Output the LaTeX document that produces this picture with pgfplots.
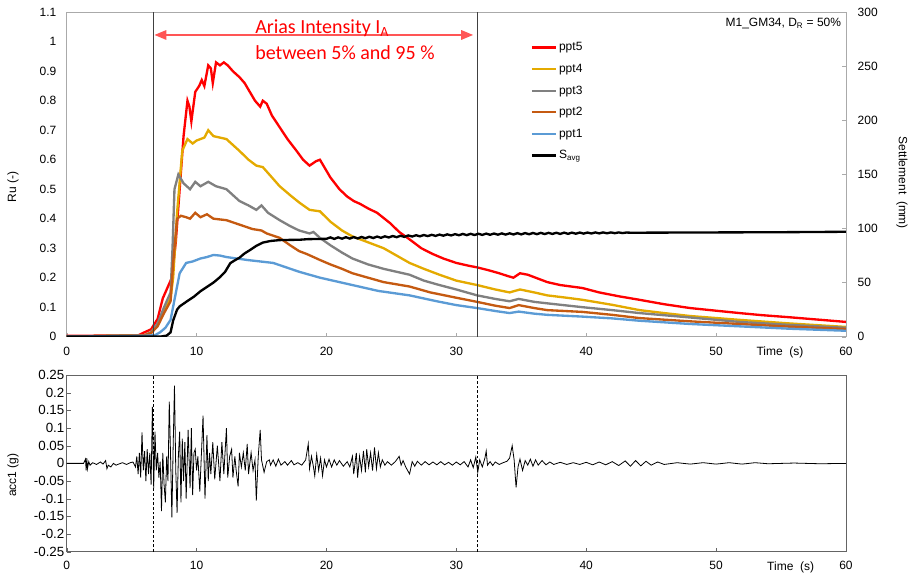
\documentclass[border=0pt]{standalone}
\usepackage{fontspec}
\setmainfont{Liberation Sans}
\newfontfamily\calibri{Carlito}
\usepackage{pgfplots}
\pgfplotsset{compat=1.18}
\usetikzlibrary{arrows.meta}

\definecolor{cppt5}{RGB}{255,0,0}
\definecolor{cppt4}{RGB}{228,170,0}
\definecolor{cppt3}{RGB}{128,128,128}
\definecolor{cppt2}{RGB}{197,90,17}
\definecolor{cppt1}{RGB}{91,155,213}
\definecolor{frametop}{RGB}{170,170,170}
\definecolor{framebot}{RGB}{100,100,100}
\definecolor{arrowred}{RGB}{255,85,85}

\pgfplotsset{
  panel/.style={
    scale only axis, width=584.5pt, anchor=south west,
    xmin=0, xmax=60,
    xtick={0,10,20,30,40,50,60},
    xticklabels={0,10,20,30,40,50,60},
    xtick pos=bottom, tick align=inside,
    major tick length=3pt,
  },
  series/.style={line width=1.75pt},
}

\begin{document}
\begin{tikzpicture}[font=\fontsize{9}{11}\selectfont]

% ---------------- top panel: pore pressure ratio ----------------
\begin{axis}[panel,
    at={(50pt,181pt)}, height=243.3pt,
    ymin=0, ymax=1.1,
    ytick={0,0.1,0.2,0.3,0.4,0.5,0.6,0.7,0.8,0.9,1,1.1},
    yticklabels={0,0.1,0.2,0.3,0.4,0.5,0.6,0.7,0.8,0.9,1,1.1},
    ytick pos=left,
    axis line style={frametop},
    xtick style={frametop},
    ytick style={draw=none},
    yticklabel style={xshift=-4.25pt},
    xticklabel style={yshift=-4.5pt},
    legend cell align=left,
    legend image code/.code={\draw[#1] (0pt,0pt) -- (18pt,0pt);},
    legend style={at={(0.59,0.925)}, anchor=north west, draw=none, fill=none,
      row sep=4.2pt, nodes={inner sep=1.5pt, text height=7pt, text depth=2pt}},
  ]
  \addplot[series, cppt5] coordinates {
    (0,0.003) (5.5,0.004) (6.0,0.015) (6.5,0.025) (7.0,0.06) (7.4,0.13) (7.8,0.17)
    (8.1,0.2) (8.4,0.32) (8.7,0.5) (9.0,0.68) (9.3,0.80) (9.45,0.78) (9.6,0.73)
    (9.9,0.83) (10.2,0.85) (10.4,0.87) (10.6,0.85) (10.9,0.92) (11.1,0.91) (11.25,0.86)
    (11.5,0.93) (11.8,0.92) (12.1,0.93) (12.4,0.92) (12.8,0.90) (13.3,0.88) (13.7,0.86)
    (14.1,0.83) (14.5,0.80) (14.9,0.78) (15.1,0.80) (15.4,0.79) (15.8,0.75) (16.4,0.71)
    (17.0,0.67) (17.7,0.63) (18.2,0.60) (18.7,0.58) (19.2,0.595) (19.5,0.60) (19.9,0.57)
    (20.3,0.54) (21.0,0.50) (21.6,0.475) (22.1,0.46) (22.6,0.45) (23.2,0.435) (23.9,0.42)
    (24.9,0.385) (25.6,0.355) (26.4,0.33) (27.3,0.30) (28.2,0.28) (29.0,0.265) (30.0,0.25)
    (31.0,0.24) (31.6,0.235) (32.5,0.225) (33.3,0.215) (34.0,0.205) (34.4,0.20) (34.9,0.215)
    (35.5,0.21) (36.4,0.195) (37.0,0.185) (38.0,0.175) (39.7,0.165) (41.0,0.15) (42.5,0.137)
    (44.1,0.125) (46.0,0.11) (48.0,0.097) (50.0,0.088) (51.8,0.08) (53.5,0.073) (55.6,0.066)
    (57.8,0.058) (60,0.05)};
  \addlegendentry{ppt5}
  \addplot[series, cppt4] coordinates {
    (0,0) (6.0,0.005) (6.5,0.015) (7.0,0.04) (7.5,0.09) (8.0,0.13) (8.2,0.2) (8.5,0.42)
    (8.9,0.63) (9.3,0.67) (9.7,0.655) (10.0,0.665) (10.3,0.67) (10.6,0.675) (10.9,0.70)
    (11.3,0.68) (11.8,0.675) (12.3,0.67) (12.8,0.65) (13.3,0.63) (14.0,0.60) (14.6,0.58)
    (15.1,0.575) (15.6,0.55) (16.4,0.51) (17.2,0.48) (17.9,0.455) (18.7,0.43) (19.5,0.425)
    (20.3,0.39) (21.2,0.36) (22.0,0.34) (23.2,0.32) (24.4,0.30) (25.4,0.275) (26.4,0.25)
    (27.5,0.23) (28.7,0.21) (30.0,0.19) (31.6,0.175) (33.0,0.16) (34.1,0.15) (34.9,0.16)
    (36.0,0.15) (37.0,0.14) (38.5,0.132) (39.7,0.125) (42.0,0.108) (44.1,0.09) (46.0,0.08)
    (48.0,0.07) (51.8,0.057) (55.6,0.045) (60,0.033)};
  \addlegendentry{ppt4}
  \addplot[series, cppt3] coordinates {
    (0,0) (6.0,0.005) (6.5,0.015) (7.0,0.045) (7.5,0.10) (8.0,0.15) (8.15,0.3) (8.3,0.50)
    (8.6,0.55) (9.0,0.52) (9.5,0.50) (9.9,0.525) (10.3,0.51) (10.9,0.525) (11.5,0.51)
    (12.3,0.50) (12.8,0.48) (13.3,0.46) (14.0,0.445) (14.6,0.43) (15.0,0.445) (15.5,0.42)
    (16.4,0.395) (17.2,0.375) (17.9,0.36) (18.7,0.35) (19.0,0.355) (19.5,0.335) (20.3,0.31)
    (21.2,0.285) (22.0,0.265) (23.2,0.245) (24.4,0.23) (25.4,0.22) (26.4,0.21) (27.5,0.19)
    (28.7,0.175) (30.0,0.16) (31.6,0.14) (33.0,0.128) (34.1,0.12) (34.8,0.128) (36.0,0.118)
    (37.0,0.113) (39.7,0.10) (42.0,0.09) (44.1,0.08) (48.0,0.065) (51.8,0.05) (55.6,0.04)
    (60,0.03)};
  \addlegendentry{ppt3}
  \addplot[series, cppt2] coordinates {
    (0,0) (6.0,0.005) (6.5,0.012) (7.0,0.035) (7.5,0.08) (8.0,0.12) (8.2,0.25) (8.5,0.40)
    (8.8,0.41) (9.2,0.405) (9.5,0.40) (9.9,0.42) (10.3,0.405) (10.8,0.415) (11.3,0.40)
    (12.3,0.395) (13.3,0.38) (14.3,0.365) (15.0,0.36) (15.4,0.35) (16.4,0.335) (17.2,0.31)
    (17.9,0.29) (18.5,0.28) (19.0,0.27) (19.5,0.26) (20.3,0.245) (21.2,0.23) (22.0,0.215)
    (23.2,0.20) (24.4,0.185) (26.4,0.17) (28.0,0.15) (30.0,0.132) (31.6,0.118) (33.0,0.105)
    (34.1,0.097) (34.8,0.107) (36.0,0.097) (37.0,0.09) (39.7,0.084) (42.0,0.074) (44.1,0.063)
    (48.0,0.052) (51.8,0.043) (55.6,0.034) (60,0.026)};
  \addlegendentry{ppt2}
  \addplot[series, cppt1] coordinates {
    (0,0) (6.0,0.003) (6.8,0.005) (7.2,0.015) (7.6,0.03) (8.0,0.057) (8.3,0.125) (8.7,0.215)
    (9.2,0.25) (9.7,0.255) (10.3,0.265) (10.8,0.27) (11.3,0.277) (11.8,0.275) (12.3,0.27)
    (13.1,0.265) (13.9,0.26) (14.9,0.255) (15.9,0.25) (16.9,0.235) (17.9,0.22) (18.7,0.21)
    (19.5,0.20) (20.5,0.19) (21.5,0.18) (22.5,0.17) (24.0,0.155) (26.4,0.14) (28.5,0.12)
    (30.0,0.107) (31.6,0.097) (33.0,0.087) (34.1,0.08) (34.8,0.085) (36.0,0.078) (37.0,0.074)
    (39.7,0.068) (42.0,0.062) (44.1,0.054) (48.0,0.043) (51.8,0.035) (55.6,0.027) (60,0.02)};
  \addlegendentry{ppt1}
  \addlegendimage{series, black}
  \addlegendentry{S\textsubscript{avg}}

  \draw[black!75, line width=0.9pt] (axis cs:6.7,0) -- (axis cs:6.7,1.1);
  \draw[black!75, line width=0.9pt] (axis cs:31.6,0) -- (axis cs:31.6,1.1);
  \draw[arrowred, line width=1.5pt, {Triangle[length=9pt,width=7pt]}-{Triangle[length=9pt,width=7pt]}]
    (axis cs:6.75,1.023) -- (axis cs:31.3,1.023);
\end{axis}

% ---------------- top panel: settlement (right axis) ----------------
\begin{axis}[panel,
    at={(50pt,181pt)}, height=243.3pt,
    axis x line=none, axis y line*=right,
    ymin=0, ymax=300,
    ytick={0,50,100,150,200,250,300},
    yticklabels={0,50,100,150,200,250,300},
    axis line style={frametop},
    ytick style={frametop},
    yticklabel style={xshift=5.25pt},
  ]
  \addplot[series, black] coordinates {
    (0,0) (7.2,0) (7.7,1) (8.0,4) (8.2,15) (8.5,25) (8.7,28) (9.3,33) (9.8,37) (10.3,42)
    (10.8,46) (11.3,50) (11.8,55) (12.2,60) (12.6,68) (13.0,71) (13.3,73) (13.7,77) (14.1,80)
    (14.6,84) (15.1,87) (15.7,88.5) (16.4,89.3) (17.2,89.5) (17.9,89.6) (18.6,90.2) (19.3,90.3)
    (20.0,90.5) (20.3,91.8) (20.6,90.4) (20.9,91.8) (21.2,90.6) (21.5,92) (21.8,90.7) (22.1,92.1)
    (22.4,90.8) (22.7,92.2) (23.0,91) (23.3,92.4) (23.6,91.2) (23.9,92.6) (24.2,91.4) (24.5,92.8)
    (24.8,91.7) (25.1,93.1) (25.4,92) (25.7,93.3) (26.0,92.3) (26.3,93.6) (26.6,92.6) (26.9,93.8)
    (27.2,92.8) (27.5,94) (27.8,93) (28.1,94.2) (28.4,93.2) (28.7,94.4) (29.0,93.4) (29.3,94.6)
    (29.6,93.6) (29.9,94.8) (30.2,93.8) (30.5,95) (30.8,93.9) (31.1,95.1) (31.4,94) (31.7,95.2)
    (32.0,94.1) (32.3,95.3) (32.6,94.2) (32.9,95.4) (33.2,94.3) (33.5,95.5) (33.8,94.4) (34.1,95.6)
    (34.4,94.5) (34.7,95.7) (35.0,94.6) (35.3,95.8) (35.6,94.7) (35.9,95.9) (36.2,94.8) (36.5,96)
    (36.8,94.9) (37.1,96) (37.4,95) (37.7,96.1) (38.0,95) (38.3,96.2) (38.6,95.1) (38.9,96.2)
    (39.2,95.2) (39.5,96.3) (39.8,95.3) (40.1,96.3) (40.4,95.4) (40.7,96.4) (41.0,95.5) (41.3,96.4)
    (41.6,95.6) (41.9,96.4) (42.2,95.7) (42.5,96.4) (42.8,95.8) (43.1,96.3) (43.5,96.1) (45,96.2)
    (50,96.4) (55,96.6) (60,97)};
\end{axis}

% ---------------- bottom panel: acceleration ----------------
\begin{axis}[panel,
    at={(50pt,19.7pt)}, height=132.5pt,
    ymin=-0.25, ymax=0.25,
    ytick={-0.25,-0.2,-0.15,-0.1,-0.05,0,0.05,0.1,0.15,0.2,0.25},
    yticklabels={-0.25,-0.2,-0.15,-0.1,-0.05,0,0.05,0.1,0.15,0.2,0.25},
    ytick pos=left,
    axis line style={framebot},
    tick style={framebot},
    yticklabel style={xshift=1.75pt, font=\fontsize{10}{12}\selectfont},
    xticklabel style={yshift=-3.25pt},
  ]
  \addplot[black, line width=0.6pt] coordinates {
    (0,0) (1.3,0) (1.45,0.012) (1.5,-0.02) (1.55,0.015) (1.6,-0.015) (1.7,0.005) (1.8,-0.005)
    (2.0,0.002) (2.3,-0.003) (2.6,0.004) (2.8,-0.002) (3.0,0.008) (3.1,-0.015) (3.2,-0.005)
    (3.4,-0.01) (3.6,0) (3.8,-0.005) (4.0,-0.002) (4.3,0.002) (4.6,-0.003) (4.9,0.002)
    (5.1,0.004) (5.3,-0.01) (5.4,0.02) (5.5,-0.03) (5.6,0.03) (5.7,-0.04) (5.8,0.088)
    (5.9,-0.02) (6.0,0.035) (6.1,-0.05) (6.2,0.04) (6.3,-0.03) (6.4,0.03) (6.5,-0.06)
    (6.6,0.16) (6.7,-0.07) (6.8,0.09) (6.9,-0.02) (7.0,0.03) (7.1,-0.04) (7.2,0.005)
    (7.3,-0.135) (7.4,0.03) (7.5,-0.06) (7.6,-0.11) (7.7,0.02) (7.8,-0.05) (7.9,0.175)
    (8.0,0.02) (8.1,-0.153) (8.2,0.05) (8.3,0.22) (8.4,-0.02) (8.5,-0.14) (8.6,0.02)
    (8.7,0.09) (8.8,-0.11) (8.9,0.07) (9.0,-0.05) (9.1,0.06) (9.2,-0.1) (9.35,0.095)
    (9.5,-0.07) (9.6,0.1) (9.7,-0.09) (9.8,0.03) (9.9,0.04) (10.0,-0.02) (10.1,0.02)
    (10.25,-0.08) (10.5,0.135) (10.65,-0.1) (10.8,0.08) (10.9,-0.05) (11.0,0.03) (11.1,-0.03)
    (11.25,0.06) (11.4,-0.045) (11.6,0.05) (11.8,-0.05) (11.95,0.06) (12.1,-0.03) (12.3,0.1)
    (12.4,-0.04) (12.55,0.02) (12.7,0.04) (12.8,-0.04) (12.95,0.02) (13.05,-0.02) (13.2,-0.065)
    (13.3,0.03) (13.45,-0.01) (13.6,0.03) (13.75,-0.02) (13.9,0.055) (14.0,-0.03) (14.2,0.03)
    (14.35,-0.02) (14.5,0.01) (14.6,-0.105) (14.75,0.02) (14.9,0.095) (15.0,0.01) (15.2,-0.025)
    (15.4,0.005) (15.6,0.01) (15.7,-0.005) (15.9,0.01) (16.1,-0.008) (16.3,0.012) (16.5,-0.005)
    (16.8,0.005) (17.0,-0.005) (17.3,0.008) (17.5,-0.004) (17.8,0.002) (18.1,-0.005) (18.4,0.01)
    (18.6,0.055) (18.7,-0.015) (18.85,0.02) (19.0,-0.01) (19.1,-0.035) (19.25,0.025) (19.4,-0.02)
    (19.55,0.015) (19.7,-0.035) (19.85,0.01) (20.0,-0.01) (20.2,0.012) (20.4,-0.01) (20.6,0.01)
    (20.8,-0.005) (21.0,0.008) (21.3,-0.008) (21.6,0.005) (21.8,-0.01) (22.0,0.02) (22.1,-0.03)
    (22.3,0.03) (22.4,-0.04) (22.55,0.02) (22.7,-0.02) (22.85,0.035) (23.0,-0.025) (23.1,0.04)
    (23.25,-0.01) (23.4,0.03) (23.55,-0.02) (23.7,0.045) (23.85,-0.015) (24.0,0.03) (24.15,-0.01)
    (24.3,0.01) (24.5,-0.005) (24.7,0.005) (25.0,-0.005) (25.3,0.005) (25.6,0.02) (25.75,-0.005)
    (25.9,0.008) (26.1,-0.01) (26.4,-0.03) (26.6,0.005) (26.8,-0.008) (27.0,0.006) (27.3,-0.005)
    (27.6,0.005) (27.9,-0.004) (28.2,0.004) (28.5,-0.004) (28.8,0.005) (29.1,-0.004) (29.4,0.003)
    (29.7,-0.005) (30.0,0.004) (30.3,-0.004) (30.6,0.005) (30.9,-0.01) (31.1,0.01) (31.3,-0.012)
    (31.5,0.018) (31.65,-0.025) (31.8,0.01) (32.0,-0.01) (32.2,0.015) (32.3,0.035) (32.4,-0.005)
    (32.6,0.005) (32.8,-0.006) (33.0,0.004) (33.3,-0.003) (33.6,0.002) (33.9,0.006) (34.1,0.015)
    (34.3,0.05) (34.45,0.01) (34.6,-0.068) (34.75,-0.01) (34.9,0.012) (35.1,-0.02) (35.3,0.008)
    (35.5,-0.005) (35.7,0.012) (35.9,-0.008) (36.1,0.01) (36.3,-0.005) (36.6,0.008) (36.9,-0.004)
    (37.2,0.004) (37.5,-0.003) (38,0.003) (38.5,-0.003) (39,0.002) (39.5,-0.003) (40,0.003)
    (40.5,-0.004) (41,0.004) (41.5,-0.004) (42,0.005) (42.5,-0.006) (43,0.007) (43.4,-0.008)
    (43.8,0.008) (44.2,-0.007) (44.6,0.006) (45,-0.005) (45.5,0.004) (46,-0.003) (47,0.002)
    (48,-0.002) (49,0.002) (50,-0.002) (51,0.002) (52,-0.002) (53,0.002) (54,-0.001) (56,0.001)
    (58,-0.001) (60,0)};
  \draw[black, line width=0.6pt, dash pattern=on 2pt off 1.5pt] (axis cs:6.7,-0.25) -- (axis cs:6.7,0.25);
  \draw[black, line width=0.6pt, dash pattern=on 2pt off 1.5pt] (axis cs:31.6,-0.25) -- (axis cs:31.6,0.25);
\end{axis}

% ---------------- labels and annotations ----------------
\node[rotate=90] at (9.75pt,293.25pt) {Ru (-)};
\node[rotate=-90] at (676.5pt,296.25pt) {Settlement\ \ (mm)};
\node[rotate=90] at (9.75pt,77.25pt) {acc1 (g)};
\node at (585pt,169.5pt) {Time\ \ (s)};
\node at (593pt,8.25pt) {Time\ \ (s)};
\node[anchor=base east, inner sep=0pt] at (631pt,413.25pt) {M1\_GM34, D\textsubscript{R} = 50\%};
\node[anchor=base west, inner sep=0pt, text=red, font=\calibri\fontsize{15}{19}\selectfont]
  at (191.25pt,408.5pt) {Arias Intensity I\textsubscript{A}};
\node[anchor=base west, inner sep=0pt, text=red, font=\calibri\fontsize{15}{19}\selectfont]
  at (191.25pt,388.5pt) {between 5\% and 95 \%};

\pgfresetboundingbox
\path[use as bounding box] (0pt,0pt) rectangle (682.5pt,433.5pt);
\end{tikzpicture}
\end{document}
